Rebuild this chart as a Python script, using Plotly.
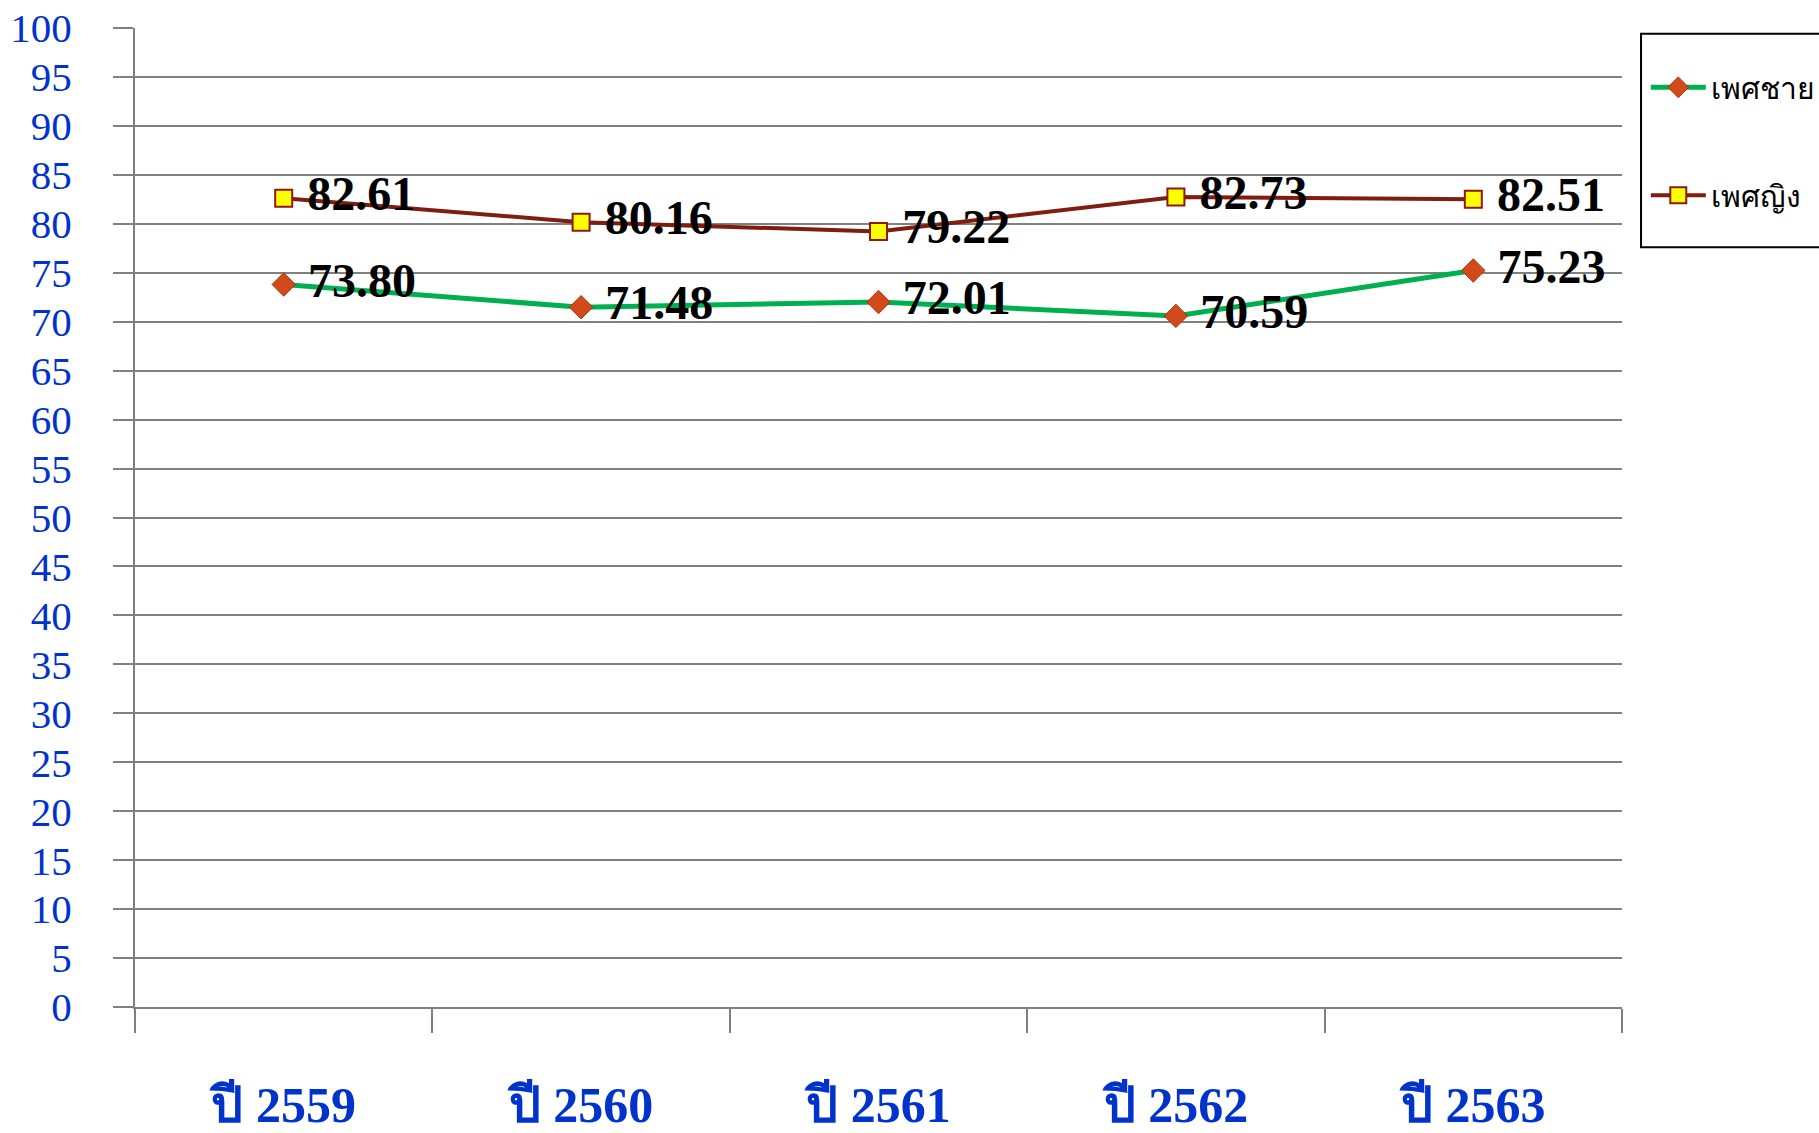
import plotly.graph_objects as go

categories = ["ปี 2559", "ปี 2560", "ปี 2561", "ปี 2562", "ปี 2563"]
male = [73.80, 71.48, 72.01, 70.59, 75.23]
female = [82.61, 80.16, 79.22, 82.73, 82.51]
y_ticks = list(range(0, 101, 5))

xpos = list(range(len(categories)))

label_font = dict(family="Liberation Serif, serif", size=48, color="black", weight="bold")

fig = go.Figure()
fig.add_trace(go.Scatter(
    x=xpos, y=male, name="เพศชาย", mode="lines+markers+text",
    line=dict(color="#00B050", width=5),
    marker=dict(symbol="diamond", size=18, color="#D24A1A", line=dict(color="#B0300F", width=1)),
    texttemplate="\u00a0%{y:.2f}", textposition="middle right",
    textfont=label_font, cliponaxis=False,
    legendgroup="a",
))
fig.add_trace(go.Scatter(
    x=xpos, y=female, name="เพศญิง", mode="lines+markers+text",
    line=dict(color="#801D10", width=4),
    marker=dict(symbol="square", size=17, color="#FFFF00", line=dict(color="#8B1A10", width=2)),
    texttemplate="\u00a0%{y:.2f}", textposition="middle right",
    textfont=label_font, cliponaxis=False,
    legendgroup="b",
))

fig.update_layout(
    width=1819, height=1133,
    margin=dict(l=135, r=197, t=28, b=126, autoexpand=False),
    plot_bgcolor="white", paper_bgcolor="white",
    showlegend=True,
    legend=dict(
        x=1.016, y=0.966, xanchor="left", yanchor="top",
        borderwidth=0, bgcolor="rgba(0,0,0,0)",
        font=dict(family="Noto Sans, sans-serif", size=30, color="black"),
        itemwidth=55, tracegroupgap=66, traceorder="grouped",
    ),
    shapes=[dict(type="rect", xref="paper", yref="paper",
                 x0=1.0128, x1=1.2, y0=0.776, y1=0.994,
                 line=dict(color="black", width=2), fillcolor="rgba(0,0,0,0)", layer="below")],
)
fig.update_xaxes(
    range=[-0.5, len(categories) - 0.5], tickvals=xpos, ticktext=categories,
    ticks="", showline=True, linecolor="#808080", linewidth=2, showgrid=False, zeroline=False,
    minor=dict(ticks="outside", ticklen=24, tickwidth=2, tickcolor="#808080",
               tick0=-0.5, dtick=1, showgrid=False),
    tickfont=dict(family="Liberation Serif, serif", size=50, color="#0033CC", weight="bold"),
    ticklabelstandoff=53, automargin=False, ticklabeloverflow="allow",
)
fig.update_yaxes(
    range=[0, 100], tickvals=y_ticks, ticks="outside", ticklen=20, tickwidth=2,
    tickcolor="#808080", showline=True, linecolor="#808080", linewidth=2,
    showgrid=True, gridcolor="#808080", gridwidth=2, zeroline=False,
    tickfont=dict(family="Liberation Serif, serif", size=41, color="#0033CC"),
    ticklabelstandoff=33, automargin=False, ticklabeloverflow="allow",
)

fig.write_html(
    "out.html",
    config={"displayModeBar": False},
    post_script="document.body.style.margin='0';document.body.style.overflow='hidden';",
)
